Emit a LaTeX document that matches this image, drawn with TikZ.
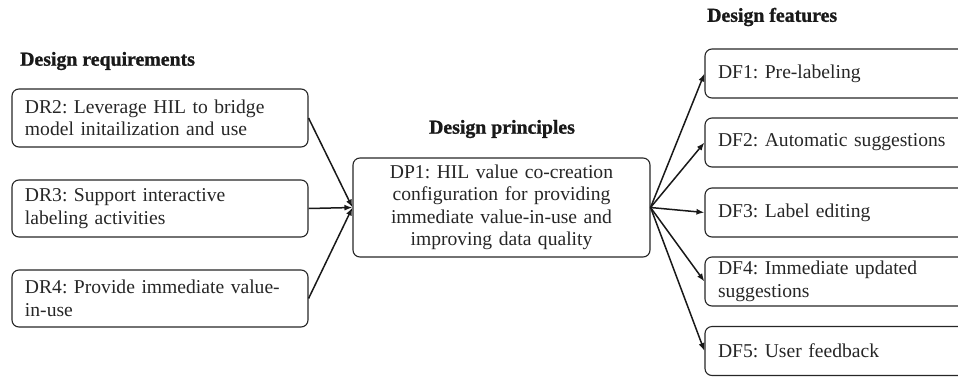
\documentclass[tikz,border=0pt]{standalone}
\usepackage{fontspec}
\setmainfont{Liberation Serif}[WordSpace=1.15]
\newfontfamily\headfont{Liberation Serif}[FakeBold=1.2]
\usetikzlibrary{arrows.meta}
\begin{document}
\frenchspacing
\begin{tikzpicture}[x=1bp,y=-1bp,
  base/.style={font=\fontsize{19.6bp}{22.5bp}\selectfont, text=black!85},
  box/.style={base, draw=black!85, line width=1.1bp, rounded corners=7bp,
    inner ysep=0pt},
  reqbox/.style={box, text width=270bp, inner xsep=13bp, align=left, minimum height=57bp},
  prinbox/.style={box, text width=297bp, inner xsep=0pt, align=center, minimum height=99bp},
  featbox/.style={box, text width=259bp, inner xsep=13bp, align=left, minimum height=49bp},
  heading/.style={font=\headfont\bfseries\fontsize{19.8bp}{22.5bp}\selectfont, text=black!90, inner sep=0pt},
  arr/.style={draw=black!90, line width=1.5bp, -{Latex[length=8bp,width=6bp]}}
]
\useasboundingbox (0,0) rectangle (958,378);
\clip (0,0) rectangle (958,378);

% column headings
\node[heading, anchor=west] (hreq) at (20,61) {Design requirements};
\node[heading] (hprin) at (502,129) {Design principles};
\node[heading, anchor=west] (hfeat) at (707,17) {Design features};

% design requirements
\node[reqbox, minimum height=58bp] (DR2) at (160,118) {DR2: Leverage HIL to bridge\\model initailization and use};
\node[reqbox] (DR3) at (160,208.5) {DR3: Support interactive\\labeling activities};
\node[reqbox] (DR4) at (160,298.5) {DR4: Provide immediate value-\\in-use};

% design principle
\node[prinbox] (DP1) at (501.5,207.5) {DP1: HIL value co-creation\\configuration for providing\\immediate value-in-use and\\improving data quality};

% design features (boxes run past the right edge)
\node[featbox] (DF1) at (847.5,73.5) {DF1: Pre-labeling};
\node[featbox] (DF2) at (847.5,142.5) {DF2: Automatic suggestions};
\node[featbox] (DF3) at (847.5,212.5) {DF3: Label editing};
\node[featbox] (DF4) at (847.5,281.5) {DF4: Immediate updated\\suggestions};
\node[featbox] (DF5) at (847.5,351) {DF5: User feedback};

% connectors
\draw[arr] (DR2.east) -- (DP1.west);
\draw[arr] (DR3.east) -- (DP1.west);
\draw[arr] (DR4.east) -- (DP1.west);
\foreach \f in {DF1,DF2,DF3,DF4,DF5}
  \draw[arr] (DP1.east) -- (\f.west);
\end{tikzpicture}
\end{document}
